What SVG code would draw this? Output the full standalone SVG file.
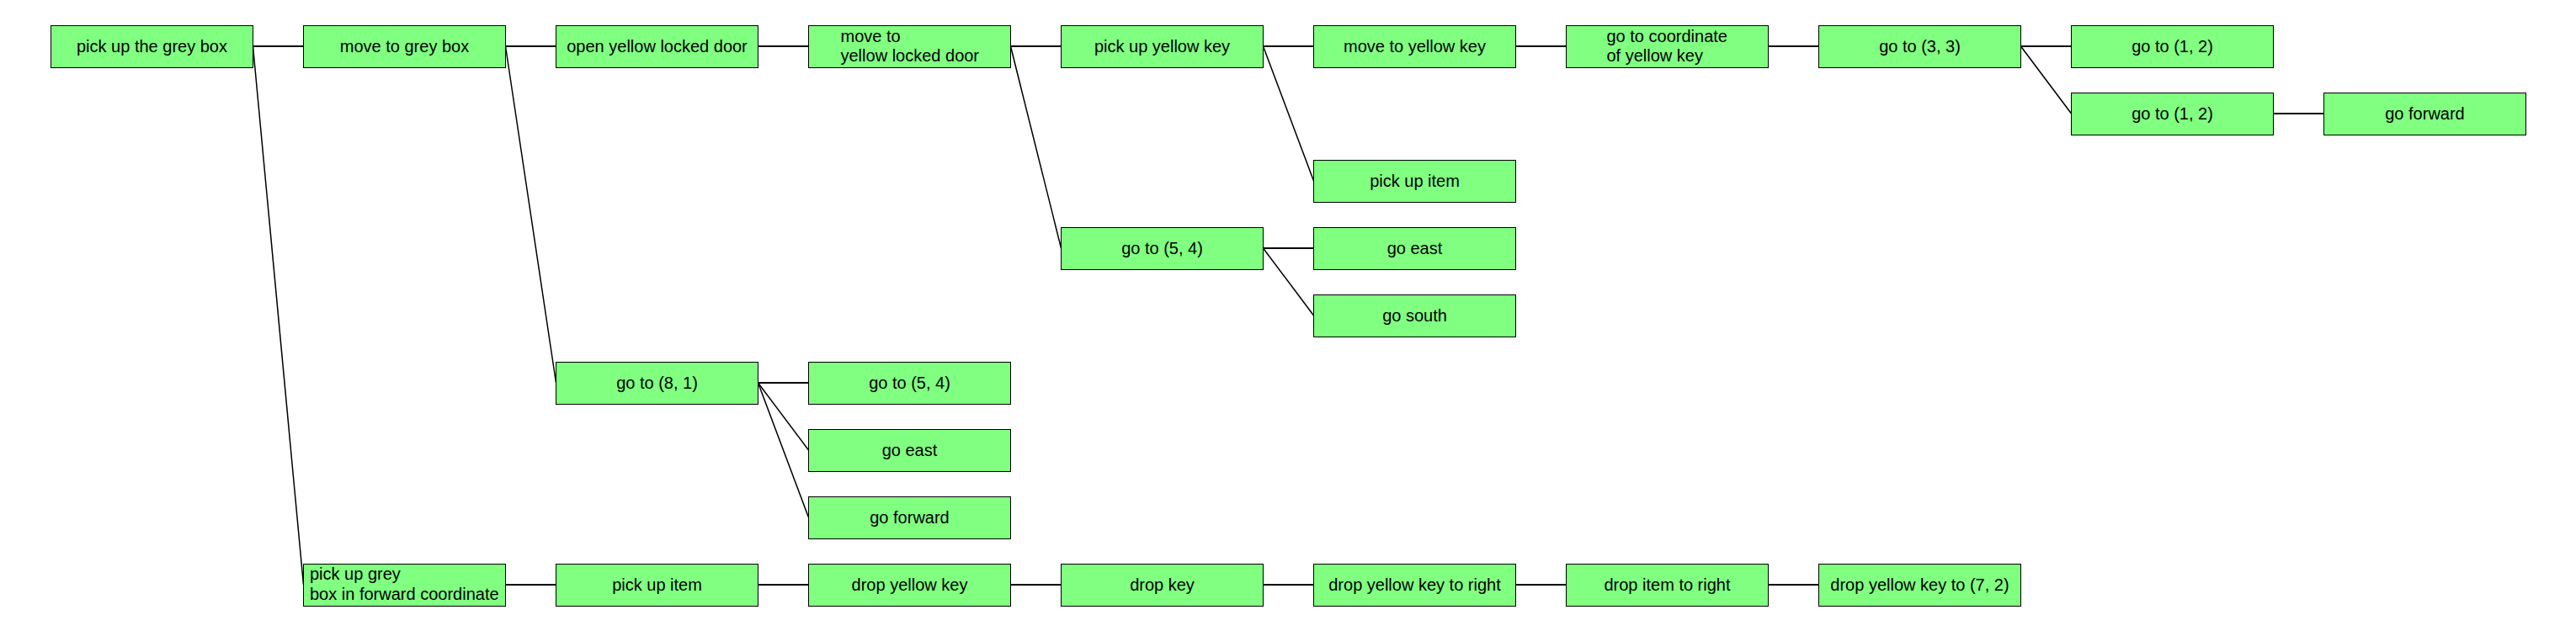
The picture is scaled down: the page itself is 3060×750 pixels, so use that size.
<svg xmlns="http://www.w3.org/2000/svg" width="3060" height="750" viewBox="0 0 3060 750">
<style>
.n rect{fill:#80ff80;stroke:#000;stroke-width:1}
.n text{font-family:"Liberation Sans",Arial,sans-serif;font-size:20px;fill:#000}
.c{text-anchor:middle}
#edges line{stroke:#000;stroke-width:2}
#edges line.d{stroke-width:1.5}
</style>
<rect width="3060" height="750" fill="#fff"/>
<g id="edges">
<line x1="300.5" y1="55" x2="360.5" y2="55"/>
<line class="d" x1="300.5" y1="55" x2="360.5" y2="695"/>
<line x1="600.5" y1="55" x2="660.5" y2="55"/>
<line class="d" x1="600.5" y1="55" x2="660.5" y2="455"/>
<line x1="900.5" y1="55" x2="960.5" y2="55"/>
<line x1="1200.5" y1="55" x2="1260.5" y2="55"/>
<line class="d" x1="1200.5" y1="55" x2="1260.5" y2="295"/>
<line x1="1500.5" y1="55" x2="1560.5" y2="55"/>
<line class="d" x1="1500.5" y1="55" x2="1560.5" y2="215"/>
<line x1="1800.5" y1="55" x2="1860.5" y2="55"/>
<line x1="2100.5" y1="55" x2="2160.5" y2="55"/>
<line x1="2400.5" y1="55" x2="2460.5" y2="55"/>
<line class="d" x1="2400.5" y1="55" x2="2460.5" y2="135"/>
<line x1="2700.5" y1="135" x2="2760.5" y2="135"/>
<line x1="1500.5" y1="295" x2="1560.5" y2="295"/>
<line class="d" x1="1500.5" y1="295" x2="1560.5" y2="375"/>
<line x1="900.5" y1="455" x2="960.5" y2="455"/>
<line class="d" x1="900.5" y1="455" x2="960.5" y2="535"/>
<line class="d" x1="900.5" y1="455" x2="960.5" y2="615"/>
<line x1="600.5" y1="695" x2="660.5" y2="695"/>
<line x1="900.5" y1="695" x2="960.5" y2="695"/>
<line x1="1200.5" y1="695" x2="1260.5" y2="695"/>
<line x1="1500.5" y1="695" x2="1560.5" y2="695"/>
<line x1="1800.5" y1="695" x2="1860.5" y2="695"/>
<line x1="2100.5" y1="695" x2="2160.5" y2="695"/>
</g>
<g id="n0" class="n"><rect x="60.5" y="30.5" width="240" height="50"/><text class="c" x="180.5" y="62">pick up the grey box</text></g>
<g id="n1" class="n"><rect x="360.5" y="30.5" width="240" height="50"/><text class="c" x="480.5" y="62">move to grey box</text></g>
<g id="n2" class="n"><rect x="660.5" y="30.5" width="240" height="50"/><text class="c" x="780.5" y="62">open yellow locked door</text></g>
<g id="n3" class="n"><rect x="960.5" y="30.5" width="240" height="50"/><text x="998.5" y="49.5">move to</text><text x="998.5" y="73">yellow locked door</text></g>
<g id="n4" class="n"><rect x="1260.5" y="30.5" width="240" height="50"/><text class="c" x="1380.5" y="62">pick up yellow key</text></g>
<g id="n5" class="n"><rect x="1560.5" y="30.5" width="240" height="50"/><text class="c" x="1680.5" y="62">move to yellow key</text></g>
<g id="n6" class="n"><rect x="1860.5" y="30.5" width="240" height="50"/><text x="1908.5" y="49.5">go to coordinate</text><text x="1908.5" y="73">of yellow key</text></g>
<g id="n7" class="n"><rect x="2160.5" y="30.5" width="240" height="50"/><text class="c" x="2280.5" y="62">go to (3, 3)</text></g>
<g id="n8" class="n"><rect x="2460.5" y="30.5" width="240" height="50"/><text class="c" x="2580.5" y="62">go to (1, 2)</text></g>
<g id="n9" class="n"><rect x="2460.5" y="110.5" width="240" height="50"/><text class="c" x="2580.5" y="142">go to (1, 2)</text></g>
<g id="n10" class="n"><rect x="2760.5" y="110.5" width="240" height="50"/><text class="c" x="2880.5" y="142">go forward</text></g>
<g id="n11" class="n"><rect x="1560.5" y="190.5" width="240" height="50"/><text class="c" x="1680.5" y="222">pick up item</text></g>
<g id="n12" class="n"><rect x="1260.5" y="270.5" width="240" height="50"/><text class="c" x="1380.5" y="302">go to (5, 4)</text></g>
<g id="n13" class="n"><rect x="1560.5" y="270.5" width="240" height="50"/><text class="c" x="1680.5" y="302">go east</text></g>
<g id="n14" class="n"><rect x="1560.5" y="350.5" width="240" height="50"/><text class="c" x="1680.5" y="382">go south</text></g>
<g id="n15" class="n"><rect x="660.5" y="430.5" width="240" height="50"/><text class="c" x="780.5" y="462">go to (8, 1)</text></g>
<g id="n16" class="n"><rect x="960.5" y="430.5" width="240" height="50"/><text class="c" x="1080.5" y="462">go to (5, 4)</text></g>
<g id="n17" class="n"><rect x="960.5" y="510.5" width="240" height="50"/><text class="c" x="1080.5" y="542">go east</text></g>
<g id="n18" class="n"><rect x="960.5" y="590.5" width="240" height="50"/><text class="c" x="1080.5" y="622">go forward</text></g>
<g id="n19" class="n"><rect x="360.5" y="670.5" width="240" height="50"/><text x="368" y="688.5">pick up grey</text><text x="368" y="712.5">box in forward coordinate</text></g>
<g id="n20" class="n"><rect x="660.5" y="670.5" width="240" height="50"/><text class="c" x="780.5" y="702">pick up item</text></g>
<g id="n21" class="n"><rect x="960.5" y="670.5" width="240" height="50"/><text class="c" x="1080.5" y="702">drop yellow key</text></g>
<g id="n22" class="n"><rect x="1260.5" y="670.5" width="240" height="50"/><text class="c" x="1380.5" y="702">drop key</text></g>
<g id="n23" class="n"><rect x="1560.5" y="670.5" width="240" height="50"/><text class="c" x="1680.5" y="702">drop yellow key to right</text></g>
<g id="n24" class="n"><rect x="1860.5" y="670.5" width="240" height="50"/><text class="c" x="1980.5" y="702">drop item to right</text></g>
<g id="n25" class="n"><rect x="2160.5" y="670.5" width="240" height="50"/><text class="c" x="2280.5" y="702">drop yellow key to (7, 2)</text></g>
</svg>
